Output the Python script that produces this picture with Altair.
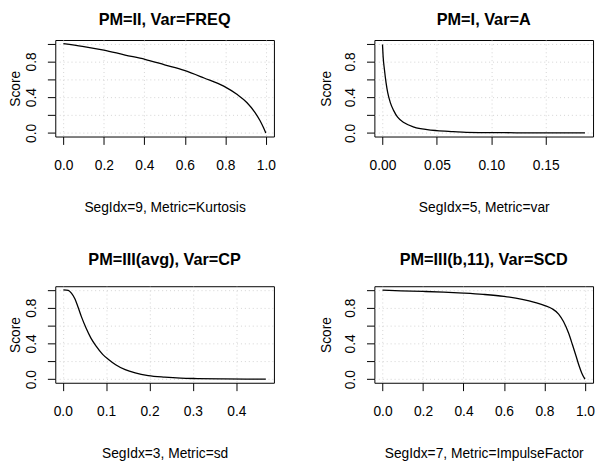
import altair as alt
import pandas as pd

FONT = "Liberation Sans"

titles = ["PM=II, Var=FREQ", "PM=I, Var=A", "PM=III(avg), Var=CP", "PM=III(b,11), Var=SCD"]
xlabels = ["SegIdx=9, Metric=Kurtosis", "SegIdx=5, Metric=var",
           "SegIdx=3, Metric=sd", "SegIdx=7, Metric=ImpulseFactor"]

# Panel 1: PM=II, Var=FREQ
p1_x = [0.0, 0.094, 0.2, 0.305, 0.403, 0.5, 0.597, 0.695, 0.792, 0.857, 0.906, 0.946, 0.971, 0.987, 1.0]
p1_y = [1.0, 0.97, 0.927, 0.872, 0.824, 0.762, 0.70, 0.615, 0.524, 0.432, 0.341, 0.231, 0.139, 0.066, 0.0]

# Panel 2: PM=I, Var=A
p2_x = [0.0, 0.0006, 0.0018, 0.0033, 0.0048, 0.0072, 0.0103, 0.0139, 0.02, 0.029, 0.041, 0.05,
        0.065, 0.077, 0.1, 0.123, 0.15, 0.186]
p2_y = [0.99, 0.853, 0.707, 0.56, 0.45, 0.34, 0.25, 0.176, 0.114, 0.066, 0.037, 0.026,
        0.015, 0.007, 0.004, 0.002, 0.001, 0.0]

# Panel 3: PM=III(avg), Var=CP
p3_x = [0.0015, 0.0128, 0.020, 0.028, 0.035, 0.043, 0.054, 0.065, 0.077, 0.092, 0.107, 0.122,
        0.144, 0.167, 0.197, 0.235, 0.272, 0.31, 0.363, 0.423, 0.468]
p3_y = [1.0, 0.993, 0.963, 0.90, 0.81, 0.70, 0.57, 0.46, 0.37, 0.278, 0.216, 0.161,
        0.106, 0.07, 0.04, 0.022, 0.011, 0.007, 0.004, 0.001, 0.0]

# Panel 4: PM=III(b,11), Var=SCD
p4_x = [0.0, 0.091, 0.2, 0.302, 0.4, 0.497, 0.6, 0.69, 0.756, 0.802, 0.838, 0.87, 0.894,
        0.919, 0.938, 0.956, 0.971, 0.984, 1.0]
p4_y = [0.996, 0.989, 0.982, 0.974, 0.963, 0.949, 0.927, 0.894, 0.857, 0.824, 0.788, 0.729, 0.645,
        0.516, 0.388, 0.26, 0.15, 0.07, 0.0]

x_ticks = [[0, 0.2, 0.4, 0.6, 0.8, 1.0],
           [0, 0.05, 0.10, 0.15],
           [0, 0.1, 0.2, 0.3, 0.4],
           [0, 0.2, 0.4, 0.6, 0.8, 1.0]]
x_fmts = [".1f", ".2f", ".1f", ".1f"]
y_ticks = [0, 0.2, 0.4, 0.6, 0.8, 1.0]

xs_all = [p1_x, p2_x, p3_x, p4_x]
ys_all = [p1_y, p2_y, p3_y, p4_y]
score_pad = [2, 11, 2, 11]
title_offset = [12, 12, 18, 18]

W, H = 222, 98
GRID = "#d3d3d3"
FS = 14


def panel(i):
    xs, ys = xs_all[i], ys_all[i]
    lo, hi = min(xs), max(xs)
    r = hi - lo
    xdom = [lo - 0.04 * r, hi + 0.04 * r]
    df = pd.DataFrame({"x": xs, "y": ys})
    return alt.Chart(
        df,
        title=alt.Title(titles[i], fontSize=16.5, fontWeight="bold", font=FONT,
                        anchor="middle", baseline="top", offset=title_offset[i], color="black"),
    ).mark_line(color="black", strokeWidth=1.3, interpolate="monotone").encode(
        x=alt.X("x:Q", scale=alt.Scale(domain=xdom, nice=False, zero=False),
                axis=alt.Axis(values=x_ticks[i], format=x_fmts[i], title=xlabels[i],
                              grid=True, gridColor=GRID, gridDash=[1, 3], gridWidth=1,
                              domain=False, ticks=True, tickSize=8, tickColor="black",
                              tickWidth=1, labelPadding=21, labelBaseline="middle",
                              labelAlign="center", labelFlush=False, labelOverlap=False,
                              labelFont=FONT, labelFontSize=FS, labelColor="black",
                              titleFont=FONT, titleFontSize=FS, titleFontWeight="normal",
                              titleColor="black", titleY=72, titleBaseline="middle")),
        y=alt.Y("y:Q", scale=alt.Scale(domain=[-0.04, 1.04], nice=False, zero=False),
                axis=alt.Axis(values=y_ticks,
                              labelExpr="round(datum.value*10) % 4 == 0 ? format(datum.value, '.1f') : ''",
                              title="Score", grid=True, gridColor=GRID, gridDash=[1, 3],
                              gridWidth=1, domain=False, tickSize=8, tickColor="black",
                              tickWidth=1, labelAngle=270, labelAlign="center",
                              labelBaseline="middle", labelPadding=16, labelFlush=False,
                              labelOverlap=False, labelFont=FONT, labelFontSize=FS,
                              labelColor="black", titleFont=FONT, titleFontSize=FS,
                              titleFontWeight="normal", titleColor="black",
                              titlePadding=score_pad[i])),
    ).properties(width=W, height=H)


chart = alt.concat(
    *[panel(i) for i in range(4)], columns=2, bounds="flush",
    spacing=alt.RowColnumber(row=152, column=102),
).properties(padding=0, background="white").configure_view(
    stroke="black", strokeWidth=1
)

chart.save("out.html", embed_options={"renderer": "svg", "actions": False})
